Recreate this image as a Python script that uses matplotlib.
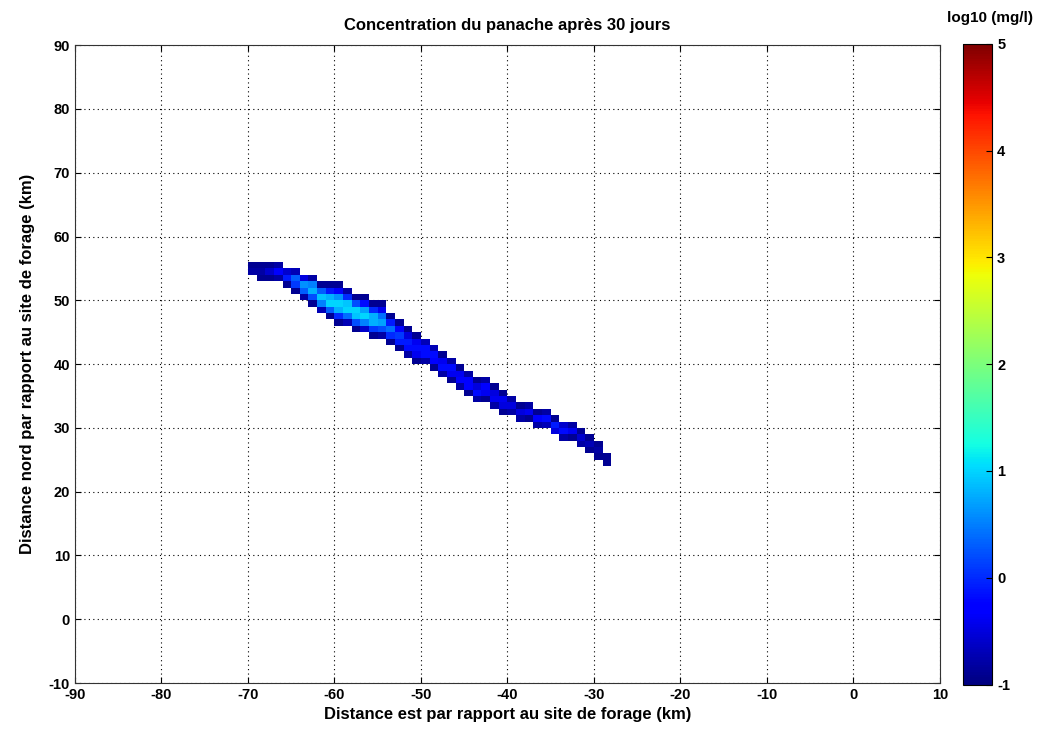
import numpy as np
import matplotlib.pyplot as plt

plt.rcParams['font.family'] = ['Liberation Sans', 'DejaVu Sans']
plt.rcParams['font.weight'] = 'bold'
plt.rcParams['axes.unicode_minus'] = False

# plume cells: left edge of each 1 km column, lowest cell row, log10 values bottom->top
col_x = [-70, -69, -68, -67, -66, -65, -64, -63, -62, -61,
         -60, -59, -58, -57, -56, -55, -54, -53, -52, -51,
         -50, -49, -48, -47, -46, -45, -44, -43, -42, -41,
         -40, -39, -38, -37, -36, -35, -34, -33, -32, -31,
         -30, -29]
col_y0 = [54, 53, 53, 53, 52, 51, 50, 49, 48, 47,
          46, 46, 45, 45, 44, 44, 43, 42, 41, 40,
          40, 39, 38, 37, 36, 35, 34, 34, 33, 32,
          32, 31, 31, 30, 30, 29, 28, 28, 27, 26,
          25, 24]
col_vals = [
    [-0.8, -0.9],
    [-0.9, -0.8, -0.9],
    [-0.9, -0.6, -0.9],
    [-0.8, -0.3, -0.8],
    [-0.9, -0.1, -0.6],
    [-0.9, 0.1, 0.3, -0.7],
    [-0.8, 0.3, 0.6, -0.5],
    [-0.9, 0.2, 0.8, 0.5, -0.8],
    [-0.7, 0.5, 0.9, 0.3, -0.9],
    [-0.9, 0.3, 1.0, 0.8, -0.1, -0.9],
    [-0.9, 0.0, 0.8, 1.0, 0.6, -0.3, -0.9],
    [-0.7, 0.4, 1.0, 0.9, 0.0, -0.8],
    [-0.9, 0.2, 0.9, 1.0, 0.2, -0.9],
    [-0.6, 0.5, 1.0, 0.7, -0.2, -0.9],
    [-0.9, 0.1, 0.8, 0.8, 0.0, -0.9],
    [-0.8, 0.2, 0.7, 0.4, -0.4, -0.9],
    [-0.9, 0.0, 0.4, -0.1, -0.9],
    [-0.9, -0.1, 0.1, -0.3, -0.9],
    [-0.8, -0.2, -0.1, -0.5, -0.9],
    [-0.9, -0.4, -0.2, -0.4, -0.9],
    [-0.8, -0.2, -0.2, -0.7],
    [-0.9, -0.3, -0.2, -0.7],
    [-0.8, -0.2, -0.4, -0.9],
    [-0.9, -0.4, -0.2, -0.8],
    [-0.8, -0.3, -0.4, -0.9],
    [-0.9, -0.3, -0.3, -0.8],
    [-0.8, -0.2, -0.5, -0.9],
    [-0.9, -0.4, -0.3, -0.8],
    [-0.8, -0.4, -0.5, -0.9],
    [-0.9, -0.5, -0.4, -0.9],
    [-0.8, -0.5, -0.8],
    [-0.8, -0.5, -0.9],
    [-0.9, -0.4, -0.8],
    [-0.8, -0.3, -0.9],
    [-0.7, -0.2, -0.8],
    [-0.5, -0.1, -0.9],
    [-0.8, -0.2, -0.6],
    [-0.9, -0.4, -0.8],
    [-0.8, -0.6, -0.9],
    [-0.9, -0.7, -0.9],
    [-0.9, -0.8, -0.9],
    [-0.9, -0.9],
]

x_edges = np.arange(-90, 11)
y_edges = np.arange(-10, 91)
Z = np.full((len(y_edges) - 1, len(x_edges) - 1), np.nan)
for x, y0, vals in zip(col_x, col_y0, col_vals):
    for k, v in enumerate(vals):
        Z[y0 + k + 10, x + 90] = v
Z = np.ma.masked_invalid(Z)

fig = plt.figure(figsize=(10.44, 7.29), dpi=100)
ax = fig.add_axes([0.0718, 0.063, 0.8285, 0.875])
cax = fig.add_axes([0.9225, 0.061, 0.028, 0.879])

mesh = ax.pcolormesh(x_edges, y_edges, Z, cmap='jet', vmin=-1, vmax=5)
ax.set_xlim(-90, 10)
ax.set_ylim(-10, 90)
ax.set_xticks(np.arange(-90, 11, 10))
ax.set_yticks(np.arange(-10, 91, 10))
ax.set_axisbelow(True)
ax.grid(True, linestyle=(0, (1, 3)), color='black', linewidth=0.8)
ax.tick_params(direction='in', top=True, right=True, labelsize=10.5, length=4, width=0.8)
for s in ax.spines.values():
    s.set_color('#333333')
    s.set_linewidth(0.8)

ax.set_title('Concentration du panache après 30 jours', fontsize=12, fontweight='bold', pad=11)
ax.set_xlabel('Distance est par rapport au site de forage (km)', fontsize=12, fontweight='bold', labelpad=4)
ax.set_ylabel('Distance nord par rapport au site de forage (km)', fontsize=12, fontweight='bold', labelpad=10)

cb = fig.colorbar(mesh, cax=cax, ticks=np.arange(-1, 6, 1))
cb.ax.tick_params(direction='in', labelsize=10.5, length=4, width=0.8)
cb.outline.set_linewidth(0.8)
fig.text(0.948, 0.975, 'log10 (mg/l)', fontsize=11, fontweight='bold', ha='center', va='center')

fig.savefig('out.png', dpi=100)
